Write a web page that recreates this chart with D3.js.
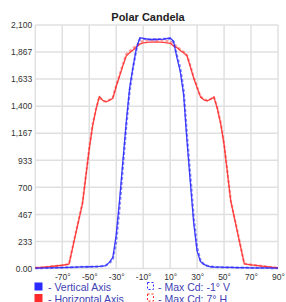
<!DOCTYPE html>
<html>
<head>
<meta charset="utf-8">
<script src="https://cdnjs.cloudflare.com/ajax/libs/d3/7.8.5/d3.min.js"></script>
<style>
  body { margin: 0; background: #fff; }
  svg { display: block; font-family: "Liberation Sans", Arial, sans-serif; }
</style>
</head>
<body>
<div id="chart"></div>
<script>
var width = 286,
    height = 302

// angles (degrees) shared by all curves
var angles = [-90, -80, -70, -65, -60, -55, -50, -47.5, -45, -42.5, -40, -37.5, -35, -32.5, -30, -27.5, -25, -22.5, -20, -17.5, -15, -12.5, -10, -5, 0,
              5, 10, 12.5, 15, 17.5, 20, 22.5, 25, 27.5, 30, 32.5, 35, 37.5, 40, 42.5, 45, 47.5, 50, 55, 60, 65, 70, 80, 90]

var verticalAxis = [3, 5, 8, 10, 12, 14, 15, 16, 17, 18, 20, 25, 55, 95, 290, 590, 930, 1270, 1560, 1740, 1900, 1990, 1985, 1975, 1975,
                    1978, 1988, 1960, 1820, 1700, 1500, 1100, 740, 390, 150, 60, 35, 22, 15, 13, 12, 11, 10, 9, 8, 7, 6, 5, 3]
var horizontalAxis = [5, 15, 28, 38, 300, 560, 1030, 1230, 1370, 1485, 1450, 1438, 1450, 1468, 1570, 1660, 1750, 1835, 1860, 1885, 1910, 1935, 1945, 1952, 1955,
                      1950, 1942, 1920, 1905, 1880, 1860, 1835, 1740, 1640, 1560, 1480, 1455, 1445, 1460, 1478, 1380, 1250, 1070, 580, 310, 40, 32, 18, 5]
var maxCdV = [3, 5, 8, 10, 12, 14, 15, 16, 17, 18, 22, 30, 45, 80, 230, 520, 880, 1230, 1530, 1730, 1890, 1975, 1980, 1975, 1978,
              1980, 1982, 1955, 1840, 1730, 1540, 1150, 800, 440, 180, 70, 38, 24, 16, 14, 12, 11, 10, 9, 8, 7, 6, 5, 3]
var maxCdH = [5, 15, 28, 38, 310, 570, 1040, 1240, 1375, 1480, 1445, 1440, 1455, 1475, 1580, 1670, 1765, 1850, 1875, 1900, 1925, 1950, 1962, 1970, 1972,
              1968, 1958, 1935, 1915, 1890, 1868, 1840, 1750, 1650, 1565, 1485, 1460, 1450, 1462, 1480, 1385, 1255, 1075, 585, 315, 42, 33, 18, 5]

var yTicks = [0, 233.33, 466.67, 700, 933.33, 1166.67, 1400, 1633.33, 1866.67, 2100]
var yLabels = ["0.00", "233", "467", "700", "933", "1,167", "1,400", "1,633", "1,867", "2,100"]
var xGrid = [-90, -70, -50, -30, -10, 10, 30, 50, 70, 90]
var xLabels = ["-70°", "-50°", "-30°", "-10°", "10°", "30°", "50°", "70°", "90°"]

var legendNames = ["- Vertical Axis", "- Horizontal Axis", "- Max Cd: -1° V", "- Max Cd: 7° H"]
var blue = "#2b2bff", red = "#ff2b2b"

var x = d3.scaleLinear().domain([-90, 90]).range([35.3, 278])
var y = d3.scaleLinear().domain([0, 2100]).range([268.5, 25])

var svg = d3.select("#chart")
  .append("svg")
    .attr("width", width)
    .attr("height", height)

// title
svg.append("text")
  .attr("x", 148)
  .attr("y", 20.5)
  .attr("text-anchor", "middle")
  .style("font-weight", "bold")
  .style("font-size", "11px")
  .style("fill", "#222")
  .text("Polar Candela")

// grid
svg.append("g")
  .selectAll("line")
  .data(xGrid)
  .enter()
  .append("line")
    .attr("x1", function(d){ return x(d) })
    .attr("x2", function(d){ return x(d) })
    .attr("y1", y(0))
    .attr("y2", y(2100))
    .attr("stroke", "#e0e0e0")
    .attr("stroke-width", 1.5)

svg.append("g")
  .selectAll("line")
  .data(yTicks)
  .enter()
  .append("line")
    .attr("x1", x(-90))
    .attr("x2", x(90))
    .attr("y1", function(d){ return y(d) })
    .attr("y2", function(d){ return y(d) })
    .attr("stroke", "#e0e0e0")
    .attr("stroke-width", 1.5)

// y axis labels
var yAxis = svg.append("g")
  .attr("transform", "translate(" + x(-90) + ",0)")
  .call(d3.axisLeft(y).tickValues(yTicks).tickSize(0).tickPadding(3)
    .tickFormat(function(d, i){ return yLabels[i] }))
yAxis.select(".domain").remove()
yAxis.selectAll("text")
  .style("font-size", "8.5px")
  .style("font-family", "Liberation Sans, Arial, sans-serif")
  .style("fill", "#333")

// x axis labels
var xAxis = svg.append("g")
  .attr("transform", "translate(0," + y(0) + ")")
  .call(d3.axisBottom(x).tickValues(xGrid.slice(1)).tickSize(0).tickPadding(5)
    .tickFormat(function(d, i){ return xLabels[i] }))
xAxis.select(".domain").remove()
xAxis.selectAll("text")
  .style("font-size", "8.5px")
  .style("font-family", "Liberation Sans, Arial, sans-serif")
  .style("fill", "#333")

var line = d3.line()
  .x(function(d){ return x(d[0]) })
  .y(function(d){ return y(d[1]) })

function pairs(vals) {
  return angles.map(function(a, i){ return [a, vals[i]] })
}

var series = [
  {vals: maxCdH, color: red, dash: "3,2", width: 2.2, op: 0.45},
  {vals: maxCdV, color: blue, dash: "3,2", width: 2.2, op: 0.55},
  {vals: horizontalAxis, color: red, dash: null, width: 1.3, op: 0.9},
  {vals: verticalAxis, color: blue, dash: null, width: 1.3, op: 0.9}
]

svg.append("g")
  .selectAll("path")
  .data(series)
  .enter()
  .append("path")
    .attr("d", function(d){ return line(pairs(d.vals)) })
    .attr("fill", "none")
    .attr("stroke", function(d){ return d.color })
    .attr("stroke-width", function(d){ return d.width })
    .attr("stroke-dasharray", function(d){ return d.dash })
    .attr("stroke-opacity", function(d){ return d.op })
    .attr("stroke-linejoin", "round")

// legend
var legend = svg.append("g")
  .selectAll("g")
  .data(legendNames)
  .enter()
  .append("g")
    .attr("transform", function(d, i){
      return "translate(" + (i < 2 ? 34.5 : 147.5) + "," + (282.5 + (i % 2) * 11.5) + ")"
    })

legend.append("rect")
  .attr("width", function(d, i){ return i < 2 ? 8 : 6 })
  .attr("height", function(d, i){ return i < 2 ? 8 : 7 })
  .attr("fill", function(d, i){ return i < 2 ? (i == 0 ? blue : red) : "none" })
  .attr("stroke", function(d, i){ return i < 2 ? "none" : (i == 2 ? blue : red) })
  .attr("stroke-dasharray", "2,2")
  .attr("stroke-width", 1)

legend.append("text")
  .attr("x", function(d, i){ return i < 2 ? 13.5 : 10.5 })
  .attr("y", 8.5)
  .style("font-size", "10.5px")
  .style("fill", "#4141b4")
  .text(function(d){ return d })
</script>
</body>
</html>
